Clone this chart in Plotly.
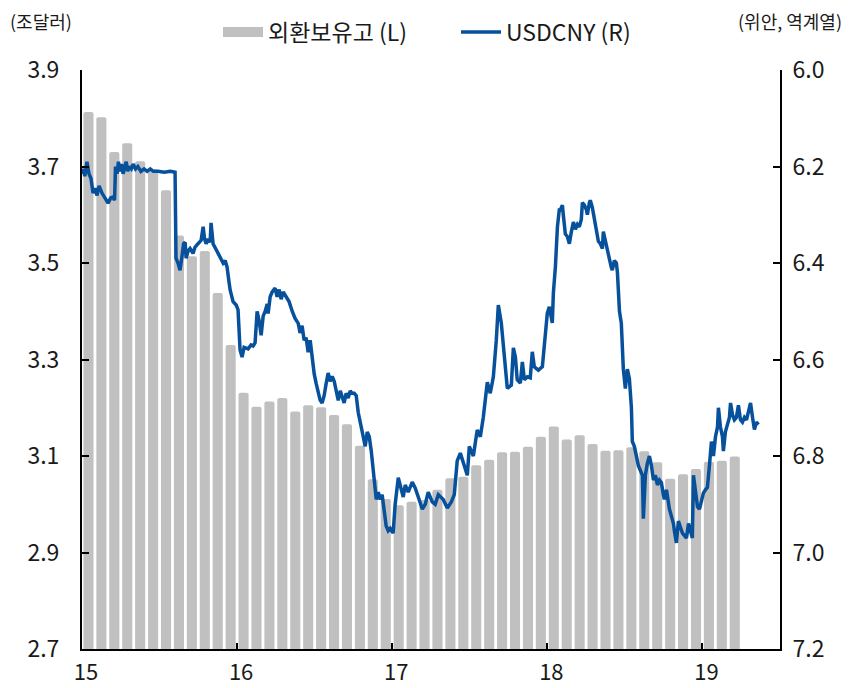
import plotly.graph_objects as go

# ---------------- data ----------------
# monthly FX reserves (trillion USD), Jan 2015 .. Mar 2019
reserve_start_year = 15
reserves = [
    3.813, 3.802, 3.730, 3.748, 3.711, 3.694, 3.651, 3.557, 3.514, 3.525, 3.438, 3.330,  # 2015
    3.231, 3.202, 3.213, 3.220, 3.192, 3.205, 3.201, 3.185, 3.166, 3.121, 3.052, 3.011,  # 2016
    2.998, 3.005, 3.009, 3.030, 3.054, 3.057, 3.081, 3.092, 3.108, 3.109, 3.119, 3.140,  # 2017
    3.161, 3.134, 3.143, 3.125, 3.111, 3.112, 3.118, 3.110, 3.087, 3.053, 3.062, 3.073,  # 2018
    3.088, 3.090, 3.099,                                                                 # 2019
]

# USDCNY (decimal year, e.g. 15.5 = mid-2015)
usdcny_t = [
    15.000, 15.008, 15.018, 15.032, 15.045, 15.058, 15.071, 15.084, 15.097, 15.110, 15.129, 15.155,
    15.168, 15.185, 15.200, 15.210, 15.216, 15.226, 15.235, 15.245, 15.255, 15.265, 15.275, 15.285,
    15.295, 15.305, 15.318, 15.330, 15.345, 15.360, 15.380, 15.400, 15.420, 15.440, 15.460, 15.490,
    15.530, 15.570, 15.600, 15.606, 15.619, 15.632, 15.645, 15.655, 15.665, 15.671, 15.684, 15.697,
    15.716, 15.729, 15.748, 15.768, 15.781, 15.790, 15.800, 15.813, 15.826, 15.832, 15.845, 15.865,
    15.890, 15.910, 15.923, 15.935, 15.948, 15.955, 15.974, 15.994, 16.006, 16.019,
    16.032, 16.045, 16.071, 16.090, 16.103, 16.116, 16.129, 16.142, 16.155, 16.168, 16.181, 16.194,
    16.200, 16.213, 16.226, 16.245, 16.258, 16.271, 16.284, 16.297, 16.316, 16.335, 16.355, 16.374,
    16.394, 16.406, 16.419, 16.432, 16.445, 16.458, 16.471, 16.484, 16.497, 16.510, 16.523, 16.535,
    16.548, 16.561, 16.574, 16.587, 16.600, 16.613, 16.626, 16.639, 16.652, 16.665, 16.677, 16.690,
    16.703, 16.716, 16.729, 16.742, 16.755, 16.768, 16.781, 16.794, 16.806, 16.819, 16.826, 16.839,
    16.852, 16.865, 16.871, 16.884, 16.897, 16.910, 16.923, 16.935, 16.948, 16.961, 16.974, 16.987,
    17.006, 17.019, 17.039,
    17.052, 17.071, 17.084, 17.103, 17.129, 17.148, 17.168, 17.194, 17.213, 17.232, 17.258, 17.277,
    17.297, 17.329, 17.355, 17.381, 17.400, 17.419, 17.439, 17.458, 17.484, 17.497, 17.523, 17.548,
    17.568, 17.587, 17.613, 17.632, 17.652, 17.671, 17.684, 17.703, 17.716, 17.735, 17.742, 17.768,
    17.781, 17.794, 17.806, 17.826, 17.839, 17.852, 17.871, 17.890, 17.903, 17.916, 17.942, 17.968,
    17.981, 18.000, 18.013, 18.032, 18.039, 18.052, 18.065, 18.077,
    18.084, 18.097, 18.103, 18.116, 18.129, 18.142, 18.155, 18.168, 18.181, 18.194, 18.206, 18.219,
    18.226, 18.239, 18.252, 18.258, 18.271, 18.277, 18.290, 18.303, 18.316, 18.329, 18.342, 18.355,
    18.361, 18.374, 18.387, 18.400, 18.413, 18.419, 18.432, 18.445, 18.452, 18.465, 18.477, 18.490,
    18.503, 18.516, 18.529, 18.542, 18.548, 18.561, 18.574, 18.587, 18.600, 18.613, 18.619, 18.632,
    18.645, 18.658, 18.671, 18.684, 18.697, 18.710, 18.723, 18.735, 18.748, 18.755, 18.768, 18.787,
    18.800, 18.813, 18.819, 18.832, 18.845, 18.858, 18.871, 18.884, 18.897, 18.910, 18.923, 18.935,
    18.942, 18.955, 18.968, 18.981, 18.994, 19.006, 19.019, 19.032, 19.045, 19.058, 19.071, 19.084,
    19.097, 19.103, 19.116, 19.129, 19.135, 19.148, 19.161, 19.174, 19.181, 19.194, 19.206, 19.219,
    19.232, 19.245, 19.258, 19.271, 19.284, 19.297, 19.310, 19.323, 19.335, 19.348, 19.361,
]
usdcny = [
    6.215, 6.205, 6.220, 6.190, 6.215, 6.225, 6.255, 6.245, 6.260, 6.240, 6.255, 6.270,
    6.276, 6.265, 6.263, 6.270, 6.200, 6.215, 6.190, 6.210, 6.195, 6.215, 6.200, 6.190,
    6.210, 6.200, 6.205, 6.195, 6.205, 6.200, 6.210, 6.205, 6.210, 6.205, 6.210, 6.210,
    6.212, 6.210, 6.212, 6.390, 6.400, 6.415, 6.385, 6.360, 6.357, 6.390, 6.375, 6.370,
    6.380, 6.367, 6.360, 6.353, 6.325, 6.350, 6.360, 6.350, 6.357, 6.317, 6.360, 6.373,
    6.390, 6.400, 6.395, 6.408, 6.440, 6.456, 6.480, 6.487, 6.497, 6.580,
    6.595, 6.575, 6.578, 6.570, 6.572, 6.565, 6.500, 6.520, 6.550, 6.510, 6.500, 6.485,
    6.505, 6.470, 6.460, 6.452, 6.470, 6.455, 6.475, 6.460, 6.470, 6.480, 6.500, 6.515,
    6.525, 6.545, 6.530, 6.560, 6.555, 6.585, 6.560, 6.600, 6.630, 6.650, 6.665, 6.684,
    6.690, 6.675, 6.650, 6.628, 6.645, 6.635, 6.645, 6.670, 6.685, 6.665, 6.675, 6.690,
    6.670, 6.680, 6.665, 6.670, 6.670, 6.675, 6.710, 6.730, 6.750, 6.765, 6.780, 6.750,
    6.760, 6.790, 6.810, 6.850, 6.890, 6.875, 6.890, 6.880, 6.910, 6.945, 6.955, 6.950,
    6.960, 6.900, 6.845,
    6.864, 6.885, 6.860, 6.875, 6.854, 6.866, 6.885, 6.910, 6.900, 6.875, 6.895, 6.900,
    6.880, 6.890, 6.908, 6.895, 6.880, 6.810, 6.794, 6.815, 6.840, 6.780, 6.800, 6.746,
    6.760, 6.720, 6.647, 6.670, 6.636, 6.560, 6.487, 6.524, 6.574, 6.628, 6.660, 6.653,
    6.576, 6.595, 6.642, 6.649, 6.605, 6.642, 6.636, 6.638, 6.584, 6.615, 6.622, 6.615,
    6.576, 6.504, 6.491, 6.524, 6.462, 6.408, 6.325, 6.290,
    6.290, 6.280, 6.300, 6.340, 6.345, 6.360, 6.335, 6.315, 6.330, 6.320, 6.325, 6.310,
    6.275, 6.280, 6.290, 6.300, 6.275, 6.270, 6.285, 6.310, 6.330, 6.355, 6.360, 6.370,
    6.335, 6.355, 6.375, 6.390, 6.410, 6.415, 6.395, 6.400, 6.420, 6.500, 6.525, 6.620,
    6.660, 6.620, 6.640, 6.700, 6.770, 6.780, 6.800, 6.820, 6.830, 6.840, 6.930, 6.840,
    6.815, 6.800, 6.820, 6.850, 6.840, 6.860, 6.850, 6.855, 6.880, 6.890, 6.870, 6.910,
    6.925, 6.940, 6.955, 6.980, 6.935, 6.950, 6.960, 6.965, 6.970, 6.940, 6.960, 6.970,
    6.840, 6.880, 6.905, 6.910, 6.890, 6.877, 6.870, 6.865, 6.820, 6.770, 6.800, 6.760,
    6.740, 6.700, 6.740, 6.760, 6.790, 6.750, 6.735, 6.720, 6.690, 6.715, 6.725, 6.720,
    6.695, 6.725, 6.730, 6.720, 6.725, 6.710, 6.690, 6.720, 6.745, 6.730, 6.735,
]

year_ticks = [15, 16, 17, 18, 19]
year_labels = ["15", "16", "17", "18", "19"]
left_ticks = [2.7, 2.9, 3.1, 3.3, 3.5, 3.7, 3.9]
right_ticks = [6.0, 6.2, 6.4, 6.6, 6.8, 7.0, 7.2]

# ---------------- figure ----------------
bar_x = [reserve_start_year + (i + 0.5) / 12 for i in range(len(reserves))]

FONT = "Noto Sans CJK KR, Noto Sans, sans-serif"
TXT = "#1a1a1a"
GRAY = "#c0c0c0"
BLUE = "#07519c"

# page is shown with an 8px body margin; figure sized to the visible area
W, H = 842, 680
ML, MT, MR, MB = 74, 62, 70, 39
PW, PH = W - ML - MR, H - MT - MB
TICK_SIZE = 23

fig = go.Figure()
fig.add_trace(go.Bar(
    x=bar_x, y=reserves, width=0.78 / 12, marker=dict(color=GRAY, line=dict(width=0)),
    name="외환보유고 (L)", showlegend=False, yaxis="y",
))
# legend stand-in for the bars (wide gray swatch)
fig.add_trace(go.Scatter(
    x=[None], y=[None], mode="lines", line=dict(color=GRAY, width=16),
    name="외환보유고 (L)", yaxis="y",
))
fig.add_trace(go.Scatter(
    x=usdcny_t, y=usdcny, mode="lines", line=dict(color=BLUE, width=3.5),
    name="USDCNY (R)", yaxis="y2",
))

axis_common = dict(showline=True, linecolor="black", linewidth=2, ticks="inside",
                   tickwidth=1.5, tickcolor="black", showgrid=False, zeroline=False,
                   automargin=False)

fig.update_layout(
    width=W, height=H, autosize=False,
    margin=dict(l=ML, r=MR, t=MT, b=MB, pad=0),
    paper_bgcolor="white", plot_bgcolor="white",
    font=dict(family=FONT, size=20, color=TXT),
    barcornerradius=2,
    showlegend=True,
    legend=dict(orientation="h", xref="paper", x=(210 - ML) / PW, xanchor="left",
                yref="container", y=1 - 24 / H, yanchor="middle",
                font=dict(size=23, color=TXT), bgcolor="rgba(0,0,0,0)",
                itemwidth=40, tracegroupgap=0,
                entrywidthmode="pixels", entrywidth=183),
    xaxis=dict(range=[15, 19.5], tickvals=year_ticks, ticktext=year_labels,
               ticklen=6, tickfont=dict(size=22, color=TXT), ticklabelstandoff=3,
               ticklabelshift=4, **axis_common),
    yaxis=dict(range=[2.7, 3.9], tickvals=left_ticks, tickformat=".1f",
               ticklen=7, tickfont=dict(size=TICK_SIZE, color=TXT), ticklabelstandoff=16,
               **axis_common),
    yaxis2=dict(range=[7.2, 6.0], tickvals=right_ticks, tickformat=".1f",
                overlaying="y", side="right", anchor="x",
                ticklen=7, tickfont=dict(size=TICK_SIZE, color=TXT), ticklabelstandoff=6,
                **axis_common),
    annotations=[
        dict(text="(조달러)", xref="paper", yref="paper", x=(0 - ML) / PW, y=1 + (MT - 13) / PH,
             xanchor="left", yanchor="middle", showarrow=False,
             font=dict(size=18, color=TXT)),
        dict(text="(위안, 역계열)", xref="paper", yref="paper", x=(836 - ML) / PW,
             y=1 + (MT - 13) / PH,
             xanchor="right", yanchor="middle", showarrow=False,
             font=dict(size=18, color=TXT)),
    ],
)

fig.write_html("out.html")
